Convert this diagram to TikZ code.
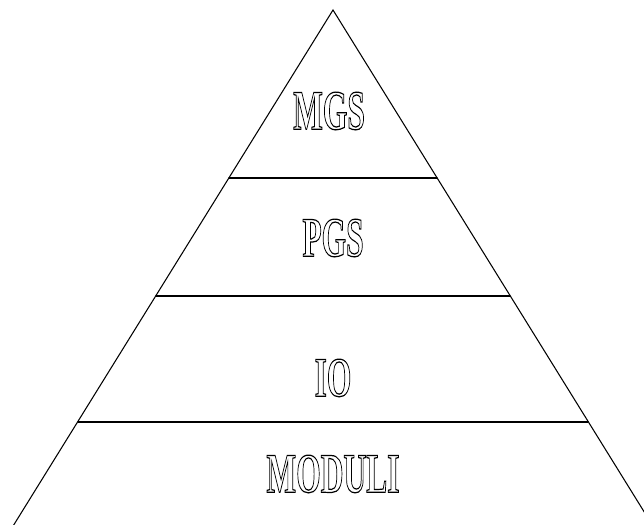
\documentclass[tikz,border=0pt]{standalone}
\usepackage{fontspec}
\setmainfont{Liberation Serif}
\usetikzlibrary{positioning}
\newcommand{\hollow}[1]{\special{pdf:literal 1 Tr 0.7 w}#1\special{pdf:literal 0 Tr}}

\begin{document}
\begin{tikzpicture}[x=0.02cm,y=-0.02cm,line cap=round,
  every node/.style={font=\bfseries\fontsize{32}{34}\selectfont},
  tier/.style={xscale=0.56,inner sep=0pt}]
 \useasboundingbox (0,0) rectangle (644,524);
 \clip (0,0) rectangle (644,524);
 \coordinate (top) at (333,10);
 \coordinate (bl) at (-8,560);
 \coordinate (br) at (674,560);
 \draw[line width=0.6pt] (bl) -- (top) -- (br);
 % dividing lines
 \coordinate (l1) at (229,178); \coordinate (r1) at (437,178);
 \coordinate (l2) at (156,296); \coordinate (r2) at (510,296);
 \coordinate (l3) at (78,422);  \coordinate (r3) at (588,422);
 \draw[line width=0.8pt] (l1) -- (r1);
 \draw[line width=0.8pt] (l2) -- (r2);
 \draw[line width=0.8pt] (l3) -- (r3);
 % labels
 \node[tier] (mgs) at (329,111) {\hollow{MGS}};
 \node[tier] (pgs) at (333,238) {\hollow{PGS}};
 \node[tier] (io) at (333,378) {\hollow{IO}};
 \node[tier] (moduli) at (333,474) {\hollow{MODULI}};
\end{tikzpicture}
\end{document}
